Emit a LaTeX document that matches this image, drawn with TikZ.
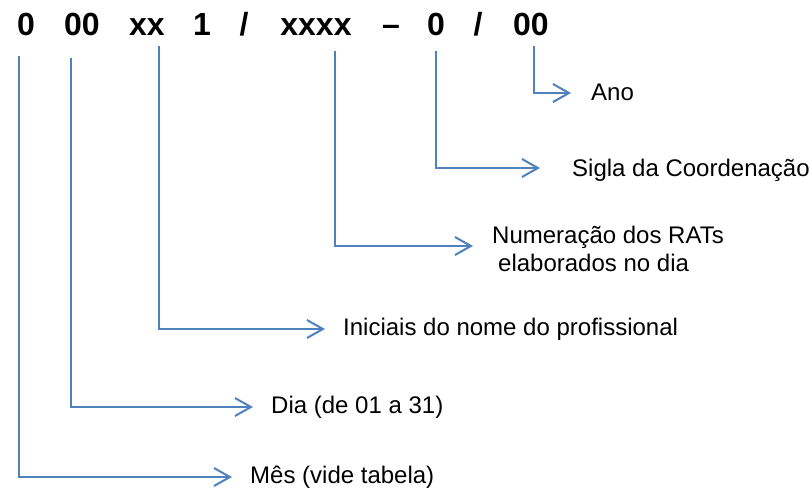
\documentclass[tikz,border=0pt]{standalone}
\usepackage{fontspec}
\setmainfont{Liberation Sans}
\usetikzlibrary{arrows.meta}
\definecolor{linkblue}{HTML}{4F81BD}
\tikzset{
  tok/.style={inner sep=0pt, anchor=base, font=\fontsize{32}{38}\selectfont\bfseries},
  lab/.style={inner sep=0pt, anchor=west, font=\fontsize{24}{28}\selectfont},
  conn/.style={draw=linkblue, line width=2pt,
    -{Straight Barb[length=16pt, width=18pt, line width=2pt]}, shorten >=18pt}
}
\begin{document}
\begin{tikzpicture}[x=1pt, y=-1pt]
\useasboundingbox (0,0) rectangle (812,491);
% title tokens
\node[tok] (t0) at (26,35) {0};
\node[tok] (t00) at (82,35) {00};
\node[tok] (txx) at (147,35) {xx};
\node[tok] (t1) at (202,35) {1};
\node[tok] (ts1) at (244,35) {/};
\node[tok] (txxxx) at (316,35) {xxxx};
\node[tok] (tdash) at (391,35) {--};
\node[tok] (tc) at (436,35) {0};
\node[tok] (ts2) at (478,35) {/};
\node[tok] (tano) at (531,35) {00};
% line tops
\coordinate (c1) at (19,56);
\coordinate (c2) at (71,58);
\coordinate (c3) at (159,46);
\coordinate (c4) at (335,51);
\coordinate (c5) at (436,51);
\coordinate (c6) at (534,46);
% labels
\node[lab] (mes) at (250,477) {Mês (vide tabela)};
\node[lab] (dia) at (271,407) {Dia (de 01 a 31)};
\node[lab] (ini) at (343,329) {Iniciais do nome do profissional};
\node[lab, align=left] (num) at (492,249) {Numeração dos RATs\\\hspace*{6pt}elaborados no dia};
\node[lab] (sig) at (572,170) {Sigla da Coordenação};
\node[lab] (ano) at (591,92) {Ano};
% connectors
\draw[conn] (c1) |- (mes.west);
\draw[conn] (c2) |- (dia.west);
\draw[conn] (c3) |- (ini.west);
\draw[conn, shorten >=19pt] (c4) |- ([yshift=3pt]num.west);
\draw[conn, shorten >=32pt] (c5) |- ([yshift=2pt]sig.west);
\draw[conn, shorten >=20pt] (c6) |- ([yshift=-1pt]ano.west);
\end{tikzpicture}
\end{document}
